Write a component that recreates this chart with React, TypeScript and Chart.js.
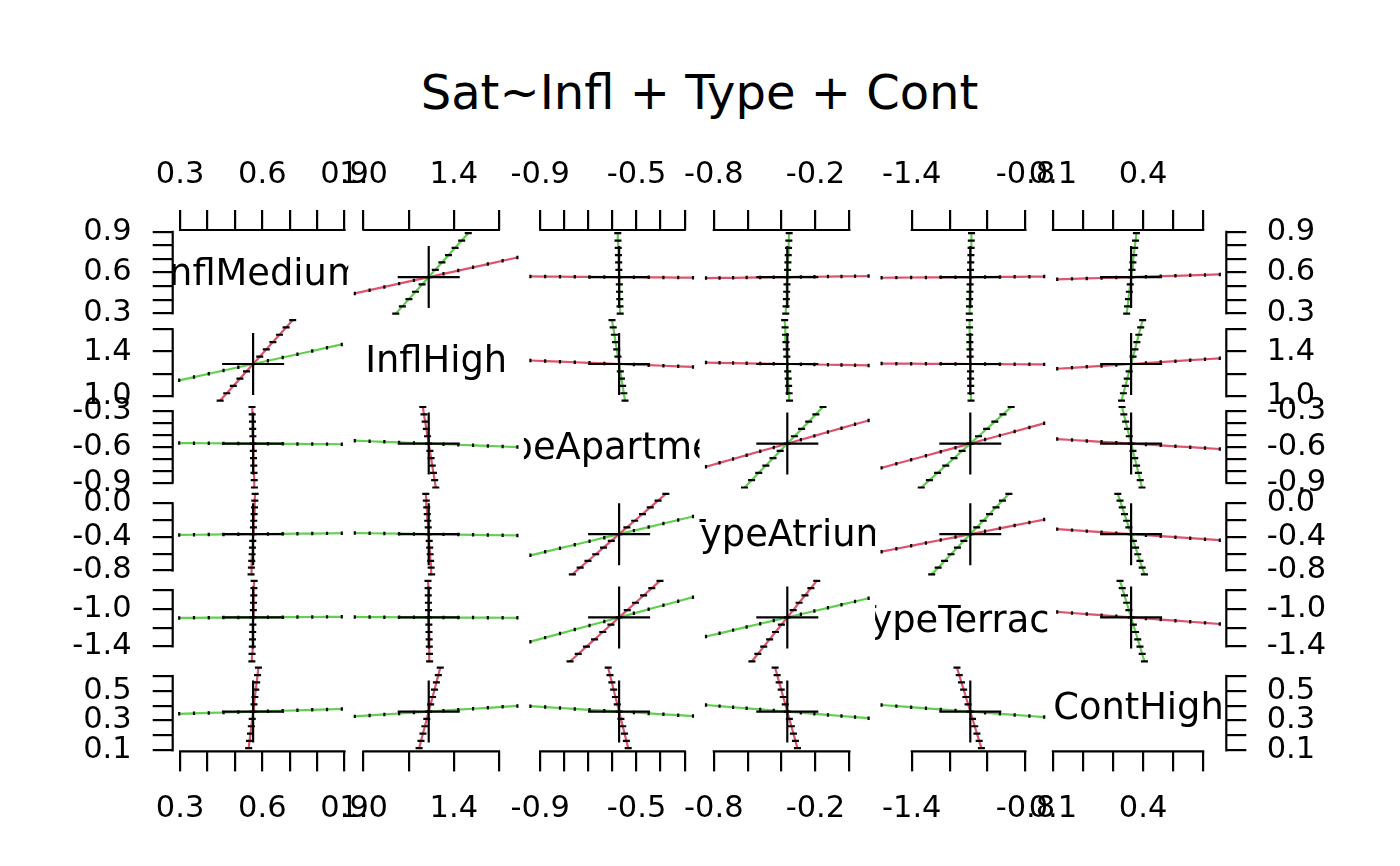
import React, { useEffect, useRef } from "react";
import { Chart, registerables } from "chart.js";

Chart.register(...registerables);

// ---------------- data ----------------
const TITLE = "Sat~Infl + Type + Cont";
const PARAMS = ["InflMedium", "InflHigh", "TypeApartment", "TypeAtrium", "TypeTerrace", "ContHigh"];
const COEFFICIENTS = [0.5664, 1.2888, -0.5724, -0.3662, -1.091, 0.3603];

// Each row: [InflMedium, InflHigh, TypeApartment, TypeAtrium, TypeTerrace, ContHigh]
const profileInflMedium = [
  [0.2967, 1.1426, -0.5678, -0.3754, -1.0965, 0.3455],
  [0.3506, 1.1719, -0.5687, -0.3736, -1.0954, 0.3485],
  [0.4046, 1.2011, -0.5696, -0.3717, -1.0943, 0.3515],
  [0.4585, 1.2303, -0.5706, -0.3699, -1.0932, 0.3544],
  [0.5125, 1.2596, -0.5715, -0.368, -1.0921, 0.3574],
  [0.5664, 1.2888, -0.5724, -0.3662, -1.091, 0.3603],
  [0.6203, 1.318, -0.5733, -0.3644, -1.0899, 0.3633],
  [0.6743, 1.3473, -0.5742, -0.3625, -1.0888, 0.3662],
  [0.7282, 1.3765, -0.5752, -0.3607, -1.0877, 0.3692],
  [0.7822, 1.4057, -0.5761, -0.3588, -1.0866, 0.3721],
  [0.8361, 1.435, -0.577, -0.357, -1.0856, 0.3751],
  [0.89, 1.4642, -0.5779, -0.3552, -1.0845, 0.378],
];
const profileInflHigh = [
  [0.4461, 0.9611, -0.5478, -0.353, -1.0871, 0.3283],
  [0.4702, 1.0267, -0.5528, -0.3556, -1.0879, 0.3347],
  [0.4942, 1.0922, -0.5577, -0.3583, -1.0887, 0.3411],
  [0.5183, 1.1577, -0.5626, -0.3609, -1.0894, 0.3475],
  [0.5423, 1.2233, -0.5675, -0.3636, -1.0902, 0.3539],
  [0.5664, 1.2888, -0.5724, -0.3662, -1.091, 0.3603],
  [0.5905, 1.3543, -0.5773, -0.3688, -1.0918, 0.3667],
  [0.6145, 1.4199, -0.5822, -0.3715, -1.0926, 0.3731],
  [0.6386, 1.4854, -0.5871, -0.3741, -1.0933, 0.3795],
  [0.6626, 1.5509, -0.592, -0.3768, -1.0941, 0.3859],
  [0.6867, 1.6165, -0.597, -0.3794, -1.0949, 0.3923],
  [0.7108, 1.682, -0.6019, -0.382, -1.0957, 0.3987],
];
const profileTypeApartment = [
  [0.5713, 1.3202, -0.9409, -0.619, -1.35, 0.3966],
  [0.5705, 1.315, -0.8795, -0.5769, -1.3068, 0.3906],
  [0.5696, 1.3098, -0.818, -0.5348, -1.2636, 0.3845],
  [0.5688, 1.3045, -0.7566, -0.4926, -1.2205, 0.3785],
  [0.568, 1.2993, -0.6952, -0.4505, -1.1773, 0.3724],
  [0.5672, 1.294, -0.6338, -0.4083, -1.1342, 0.3664],
  [0.5664, 1.2888, -0.5724, -0.3662, -1.091, 0.3603],
  [0.5656, 1.2836, -0.511, -0.3241, -1.0478, 0.3543],
  [0.5648, 1.2783, -0.4496, -0.2819, -1.0047, 0.3482],
  [0.564, 1.2731, -0.3882, -0.2398, -0.9615, 0.3422],
  [0.5632, 1.2678, -0.3268, -0.1976, -0.9184, 0.3361],
  [0.5624, 1.2626, -0.2654, -0.1555, -0.8752, 0.3301],
];
const profileTypeAtrium = [
  [0.559, 1.3018, -0.7666, -0.846, -1.2947, 0.4046],
  [0.5602, 1.2996, -0.7342, -0.766, -1.2608, 0.3972],
  [0.5614, 1.2974, -0.7018, -0.686, -1.2268, 0.3898],
  [0.5627, 1.2953, -0.6695, -0.6061, -1.1929, 0.3824],
  [0.5639, 1.2931, -0.6371, -0.5261, -1.1589, 0.3751],
  [0.5652, 1.291, -0.6048, -0.4462, -1.125, 0.3677],
  [0.5664, 1.2888, -0.5724, -0.3662, -1.091, 0.3603],
  [0.5676, 1.2866, -0.54, -0.2862, -1.0571, 0.3529],
  [0.5689, 1.2845, -0.5077, -0.2063, -1.0231, 0.3455],
  [0.5701, 1.2823, -0.4753, -0.1263, -0.9892, 0.3382],
  [0.5714, 1.2802, -0.443, -0.0464, -0.9552, 0.3308],
  [0.5726, 1.278, -0.4106, 0.0336, -0.9213, 0.3234],
  [0.5738, 1.2758, -0.3782, 0.1136, -0.8873, 0.316],
];
const profileTypeTerrace = [
  [0.5618, 1.2928, -0.7762, -0.5749, -1.5593, 0.4046],
  [0.5626, 1.2921, -0.7422, -0.5401, -1.4813, 0.3972],
  [0.5634, 1.2914, -0.7082, -0.5053, -1.4032, 0.3898],
  [0.5641, 1.2908, -0.6743, -0.4705, -1.3252, 0.3824],
  [0.5649, 1.2901, -0.6403, -0.4358, -1.2471, 0.3751],
  [0.5656, 1.2895, -0.6064, -0.401, -1.1691, 0.3677],
  [0.5664, 1.2888, -0.5724, -0.3662, -1.091, 0.3603],
  [0.5672, 1.2881, -0.5384, -0.3314, -1.013, 0.3529],
  [0.5679, 1.2875, -0.5045, -0.2966, -0.9349, 0.3455],
  [0.5687, 1.2868, -0.4705, -0.2619, -0.8569, 0.3382],
  [0.5694, 1.2862, -0.4366, -0.2271, -0.7788, 0.3308],
  [0.5702, 1.2855, -0.4026, -0.1923, -0.7008, 0.3234],
];
const profileContHigh = [
  [0.5502, 1.2462, -0.5346, -0.3062, -1.0324, 0.1143],
  [0.5534, 1.2547, -0.5422, -0.3182, -1.0442, 0.1635],
  [0.5567, 1.2632, -0.5498, -0.3302, -1.0559, 0.2127],
  [0.5599, 1.2718, -0.5573, -0.3422, -1.0676, 0.2619],
  [0.5632, 1.2803, -0.5649, -0.3542, -1.0793, 0.3111],
  [0.5664, 1.2888, -0.5724, -0.3662, -1.091, 0.3603],
  [0.5696, 1.2973, -0.58, -0.3782, -1.1027, 0.4095],
  [0.5729, 1.3058, -0.5875, -0.3902, -1.1144, 0.4587],
  [0.5761, 1.3144, -0.5951, -0.4022, -1.1261, 0.5079],
  [0.5794, 1.3229, -0.6026, -0.4142, -1.1378, 0.5571],
  [0.5826, 1.3314, -0.6102, -0.4261, -1.1496, 0.6063],
  [0.5858, 1.34, -0.6177, -0.4381, -1.1613, 0.6555],
];
const PROFILES = [
  profileInflMedium,
  profileInflHigh,
  profileTypeApartment,
  profileTypeAtrium,
  profileTypeTerrace,
  profileContHigh,
];

const TICK_VALUES = [
  [0.3, 0.4, 0.5, 0.6, 0.7, 0.8, 0.9],
  [1.0, 1.2, 1.4, 1.6],
  [-0.9, -0.8, -0.7, -0.6, -0.5, -0.4, -0.3],
  [-0.8, -0.6, -0.4, -0.2, 0.0],
  [-1.4, -1.2, -1.0, -0.8],
  [0.1, 0.2, 0.3, 0.4, 0.5, 0.6],
];
const X_TICK_LABELS = [
  ["0.3", "0.6", "0.9"],
  ["1.0", "1.4"],
  ["-0.9", "-0.5"],
  ["-0.8", "-0.2"],
  ["-1.4", "-0.8"],
  ["0.1", "0.4"],
];
const Y_TICK_LABELS = [
  ["0.3", "0.6", "0.9"],
  ["1.0", "1.4"],
  ["-0.9", "-0.6", "-0.3"],
  ["-0.8", "-0.4", "0.0"],
  ["-1.4", "-1.0"],
  ["0.1", "0.3", "0.5"],
];

// ---------------- styling / layout ----------------
const RED = "#DF536B";
const GREEN = "#61D04F";
const FONT = '"DejaVu Sans", sans-serif';
const TICK_FONT = 30.5;
const DIAG_FONT = 36.8;
const L0 = 172.7;
const T0 = 230;
const PW = 175.6;
const PH = 86.9;
const AX_H = 100;
const AX_W = 160;
const TICK_LEN = 20;
const LW = 2.2;

const NP = PARAMS.length;
const USR = PARAMS.map((_, p) => {
  const vals = PROFILES.flatMap((rows) => rows.map((r) => r[p]));
  const lo = Math.min(...vals);
  const hi = Math.max(...vals);
  const pad = 0.04 * (hi - lo);
  return [lo - pad, hi + pad];
});

const fmt = (v: number) => {
  const s = Number(v).toFixed(1);
  return s === "-0.0" ? "0.0" : s;
};

const axisLinePlugin = {
  id: "axisLine",
  afterDraw(chart: any) {
    const ctx = chart.ctx;
    Object.values(chart.scales).forEach((s: any) => {
      if (!s.options.display || !s.ticks || !s.ticks.length) return;
      const a = s.getPixelForValue(s.ticks[0].value);
      const b = s.getPixelForValue(s.ticks[s.ticks.length - 1].value);
      ctx.save();
      ctx.strokeStyle = "#000";
      ctx.lineWidth = LW;
      ctx.lineCap = "square";
      ctx.beginPath();
      if (s.position === "top") {
        ctx.moveTo(a, s.bottom);
        ctx.lineTo(b, s.bottom);
      } else if (s.position === "bottom") {
        ctx.moveTo(a, s.top);
        ctx.lineTo(b, s.top);
      } else if (s.position === "left") {
        ctx.moveTo(s.right, a);
        ctx.lineTo(s.right, b);
      } else {
        ctx.moveTo(s.left, a);
        ctx.lineTo(s.left, b);
      }
      ctx.stroke();
      ctx.restore();
    });
  },
};

const diagLabelPlugin = (text: string) => ({
  id: "diagLabel",
  afterDraw(chart: any) {
    const { ctx, chartArea: a } = chart;
    ctx.save();
    ctx.beginPath();
    ctx.rect(a.left, a.top, a.right - a.left, a.bottom - a.top);
    ctx.clip();
    ctx.font = `${DIAG_FONT}px ${FONT}`;
    ctx.fillStyle = "#000";
    ctx.textAlign = "center";
    ctx.textBaseline = "alphabetic";
    ctx.fillText(text, (a.left + a.right) / 2, (a.top + a.bottom) / 2 + 0.31 * DIAG_FONT);
    ctx.restore();
  },
});

function scaleOptions(p: number, axis: "x" | "y", position: string, shown: boolean) {
  const [min, max] = USR[p];
  if (!shown) return { type: "linear", min, max, display: false };
  const labels = axis === "x" ? X_TICK_LABELS[p] : Y_TICK_LABELS[p];
  let padding = 17;
  if (position === "bottom") padding = 19;
  if (position === "left") padding = 21;
  if (position === "right") padding = 20.4;
  return {
    type: "linear",
    min,
    max,
    display: true,
    position,
    afterBuildTicks: (s: any) => {
      s.ticks = TICK_VALUES[p].map((v) => ({ value: v }));
    },
    afterFit: (s: any) => {
      if (axis === "x") s.height = AX_H;
      else s.width = AX_W;
      s.paddingLeft = 0;
      s.paddingRight = 0;
      s.paddingTop = 0;
      s.paddingBottom = 0;
    },
    grid: { drawOnChartArea: false, drawTicks: true, tickLength: TICK_LEN, color: "#000", lineWidth: LW },
    border: { display: false },
    ticks: {
      autoSkip: false,
      maxRotation: 0,
      minRotation: 0,
      color: "#000",
      padding,
      font: { family: FONT, size: TICK_FONT, lineHeight: 1.2 },
      callback: (v: any) => {
        const t = fmt(Number(v));
        return labels.includes(t) ? t : "";
      },
    },
  };
}

type Cell = {
  i: number;
  j: number;
  left: number;
  top: number;
  width: number;
  height: number;
  pad: { left: number; right: number; top: number; bottom: number };
};

function buildCells(): Cell[] {
  const cells: Cell[] = [];
  for (let i = 0; i < NP; i++) {
    for (let j = 0; j < NP; j++) {
      const pl = L0 + j * PW;
      const pt = T0 + i * PH;
      const pr = pl + PW;
      const pb = pt + PH;
      const xShown = i === 0 || i === NP - 1;
      const yShown = j === 0 || j === NP - 1;
      const ml = j === 0 ? AX_W : xShown ? 50 : 0;
      const mr = j === NP - 1 ? AX_W : xShown ? 50 : 0;
      const mt = i === 0 ? AX_H : yShown ? 30 : 0;
      const mb = i === NP - 1 ? AX_H : yShown ? 30 : 0;
      const left = Math.floor(pl - ml);
      const top = Math.floor(pt - mt);
      const right = Math.ceil(pr + mr);
      const bottom = Math.ceil(pb + mb);
      cells.push({
        i,
        j,
        left,
        top,
        width: right - left,
        height: bottom - top,
        pad: {
          left: pl - left - (j === 0 ? AX_W : 0),
          right: right - pr - (j === NP - 1 ? AX_W : 0),
          top: pt - top - (i === 0 ? AX_H : 0),
          bottom: bottom - pb - (i === NP - 1 ? AX_H : 0),
        },
      });
    }
  }
  return cells;
}

function buildConfig(c: Cell): any {
  const { i, j } = c;
  const datasets: any[] = [];
  const plugins: any[] = [axisLinePlugin];
  if (i === j) {
    plugins.push(diagLabelPlugin(PARAMS[i]));
  } else {
    const lower = i > j;
    const colA = lower ? GREEN : RED; // profile over the column parameter
    const colB = lower ? RED : GREEN; // profile over the row parameter
    datasets.push({
      data: PROFILES[j].map((r) => ({ x: r[j], y: r[i] })),
      showLine: true,
      borderColor: colA,
      borderWidth: LW,
      pointStyle: "line",
      pointRotation: 90,
      pointRadius: 0.02 * PH,
      pointBorderColor: "#000",
      pointBackgroundColor: "#000",
      pointBorderWidth: LW,
      order: 3,
    });
    datasets.push({
      data: PROFILES[i].map((r) => ({ x: r[j], y: r[i] })),
      showLine: true,
      borderColor: colB,
      borderWidth: LW,
      pointStyle: "line",
      pointRotation: 0,
      pointRadius: 0.02 * PW,
      pointBorderColor: "#000",
      pointBackgroundColor: "#000",
      pointBorderWidth: LW,
      order: 2,
    });
    datasets.push({
      data: [{ x: COEFFICIENTS[j], y: COEFFICIENTS[i] }],
      showLine: false,
      pointStyle: "cross",
      pointRadius: 31,
      pointBorderColor: "#000",
      pointBackgroundColor: "#000",
      pointBorderWidth: LW,
      order: 1,
    });
  }
  const xShown = i === 0 || i === NP - 1;
  const yShown = j === 0 || j === NP - 1;
  return {
    type: "scatter",
    data: { datasets },
    options: {
      responsive: false,
      animation: false,
      events: [],
      layout: { padding: c.pad, autoPadding: false },
      plugins: { legend: { display: false }, tooltip: { enabled: false }, title: { display: false } },
      scales: {
        x: scaleOptions(j, "x", i === 0 ? "top" : "bottom", xShown),
        y: scaleOptions(i, "y", j === 0 ? "left" : "right", yShown),
      },
    },
    plugins,
  };
}

const CELLS = buildCells();

export default function App() {
  const refs = useRef<(HTMLCanvasElement | null)[]>([]);

  useEffect(() => {
    const charts = CELLS.map((c, k) => new Chart(refs.current[k] as HTMLCanvasElement, buildConfig(c)));
    return () => charts.forEach((ch) => ch.destroy());
  }, []);

  return (
    <div
      style={{
        position: "absolute",
        left: 0,
        top: 0,
        width: 1400,
        height: 866,
        background: "#fff",
        overflow: "hidden",
      }}
    >
      <div
        style={{
          position: "absolute",
          left: 0,
          width: 1399,
          top: 68,
          textAlign: "center",
          fontFamily: FONT,
          fontSize: 48,
          lineHeight: "48px",
          color: "#000",
          whiteSpace: "nowrap",
        }}
      >
        {TITLE}
      </div>
      {CELLS.map((c, k) => (
        <canvas
          key={k}
          ref={(el) => {
            refs.current[k] = el;
          }}
          width={c.width}
          height={c.height}
          style={{ position: "absolute", left: c.left, top: c.top, width: c.width, height: c.height }}
        />
      ))}
    </div>
  );
}
